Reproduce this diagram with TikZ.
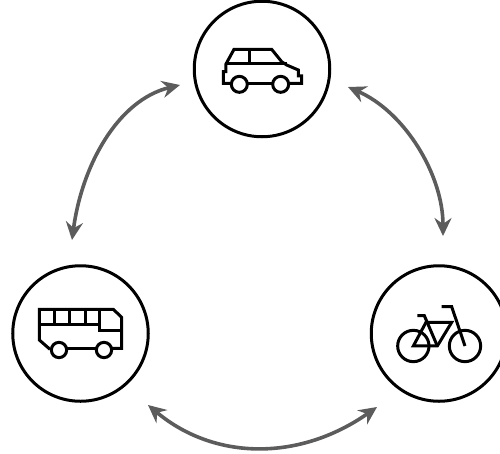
\documentclass[tikz,border=0pt]{standalone}
\usetikzlibrary{arrows.meta}
\definecolor{arrowgray}{HTML}{5C5C5C}
\tikzset{
  hub/.style={circle,draw=black,line width=3pt,minimum size=135.5pt,inner sep=0pt},
  link/.style={draw=arrowgray,line width=3.6pt,{Stealth[length=18pt,width=17pt,inset=6pt]}-{Stealth[length=18pt,width=17pt,inset=6pt]}},
  icon/.style={draw=black,line width=3pt,line join=miter,fill=none},
  wheel/.style={draw=black,line width=3pt,fill=white}
}
\begin{document}
\begin{tikzpicture}[x=1pt,y=-1pt]
\clip (0,0) rectangle (500,453);
\node[hub] (car) at (262,69) {};
\node[hub] (bus) at (80.5,333.5) {};
\node[hub] (bike) at (439,333.5) {};
\coordinate (a1) at (180,85);
\coordinate (a2) at (72,240);
\coordinate (b1) at (348,87);
\coordinate (b2) at (443,236);
\coordinate (c1) at (148,405);
\coordinate (c2) at (377,407);
\path[link] (a1) .. controls (118,100) and (82,165) .. (a2);
\path[link] (b1) .. controls (405,112) and (443,175) .. (b2);
\path[link] (c1) .. controls (215,461) and (300,461) .. (c2);
% car
\begin{scope}[shift={(190,0)},x=0.3333pt,y=-0.3333pt]
\draw[icon] (122,250) -- (100,250) -- (100,215) -- (108,215) -- (108,192) -- (132,148) -- (245,148) -- (275,185) -- (290,195) -- (325,210) -- (325,228) -- (335,228) -- (335,250) -- (295,250);
\draw[icon] (175,250) -- (248,250);
\draw[icon] (178,148) -- (178,192);
\draw[icon] (108,192) -- (290,192);
\draw[wheel] (148,253) circle (24);
\draw[wheel] (272,253) circle (24);
\end{scope}
% bus
\begin{scope}[shift={(5,260)},x=0.3333pt,y=-0.3333pt]
\draw[icon] (135,268) -- (103,240) -- (103,148) -- (325,148) -- (350,172) -- (350,265) -- (320,265);
\draw[icon] (187,265) -- (272,265);
\draw[icon] (103,192) -- (285,192);
\draw[icon] (150,148) -- (150,192);
\draw[icon] (195,148) -- (195,192);
\draw[icon] (242,148) -- (242,192);
\draw[icon] (285,148) -- (285,212) -- (350,212);
\draw[wheel] (162,270) circle (23);
\draw[wheel] (297,270) circle (23);
\end{scope}
% bike
\begin{scope}[shift={(360,260)},x=0.3333pt,y=-0.3333pt]
\draw[icon] (160,258) circle (47);
\draw[icon] (315,258) circle (47);
\draw[icon] (160,258) -- (232,258) -- (275,187) -- (198,187) -- cycle;
\draw[icon] (172,167) -- (193,167) -- (232,258);
\draw[icon] (245,140) -- (275,140) -- (315,258);
\end{scope}
\end{tikzpicture}
\end{document}
